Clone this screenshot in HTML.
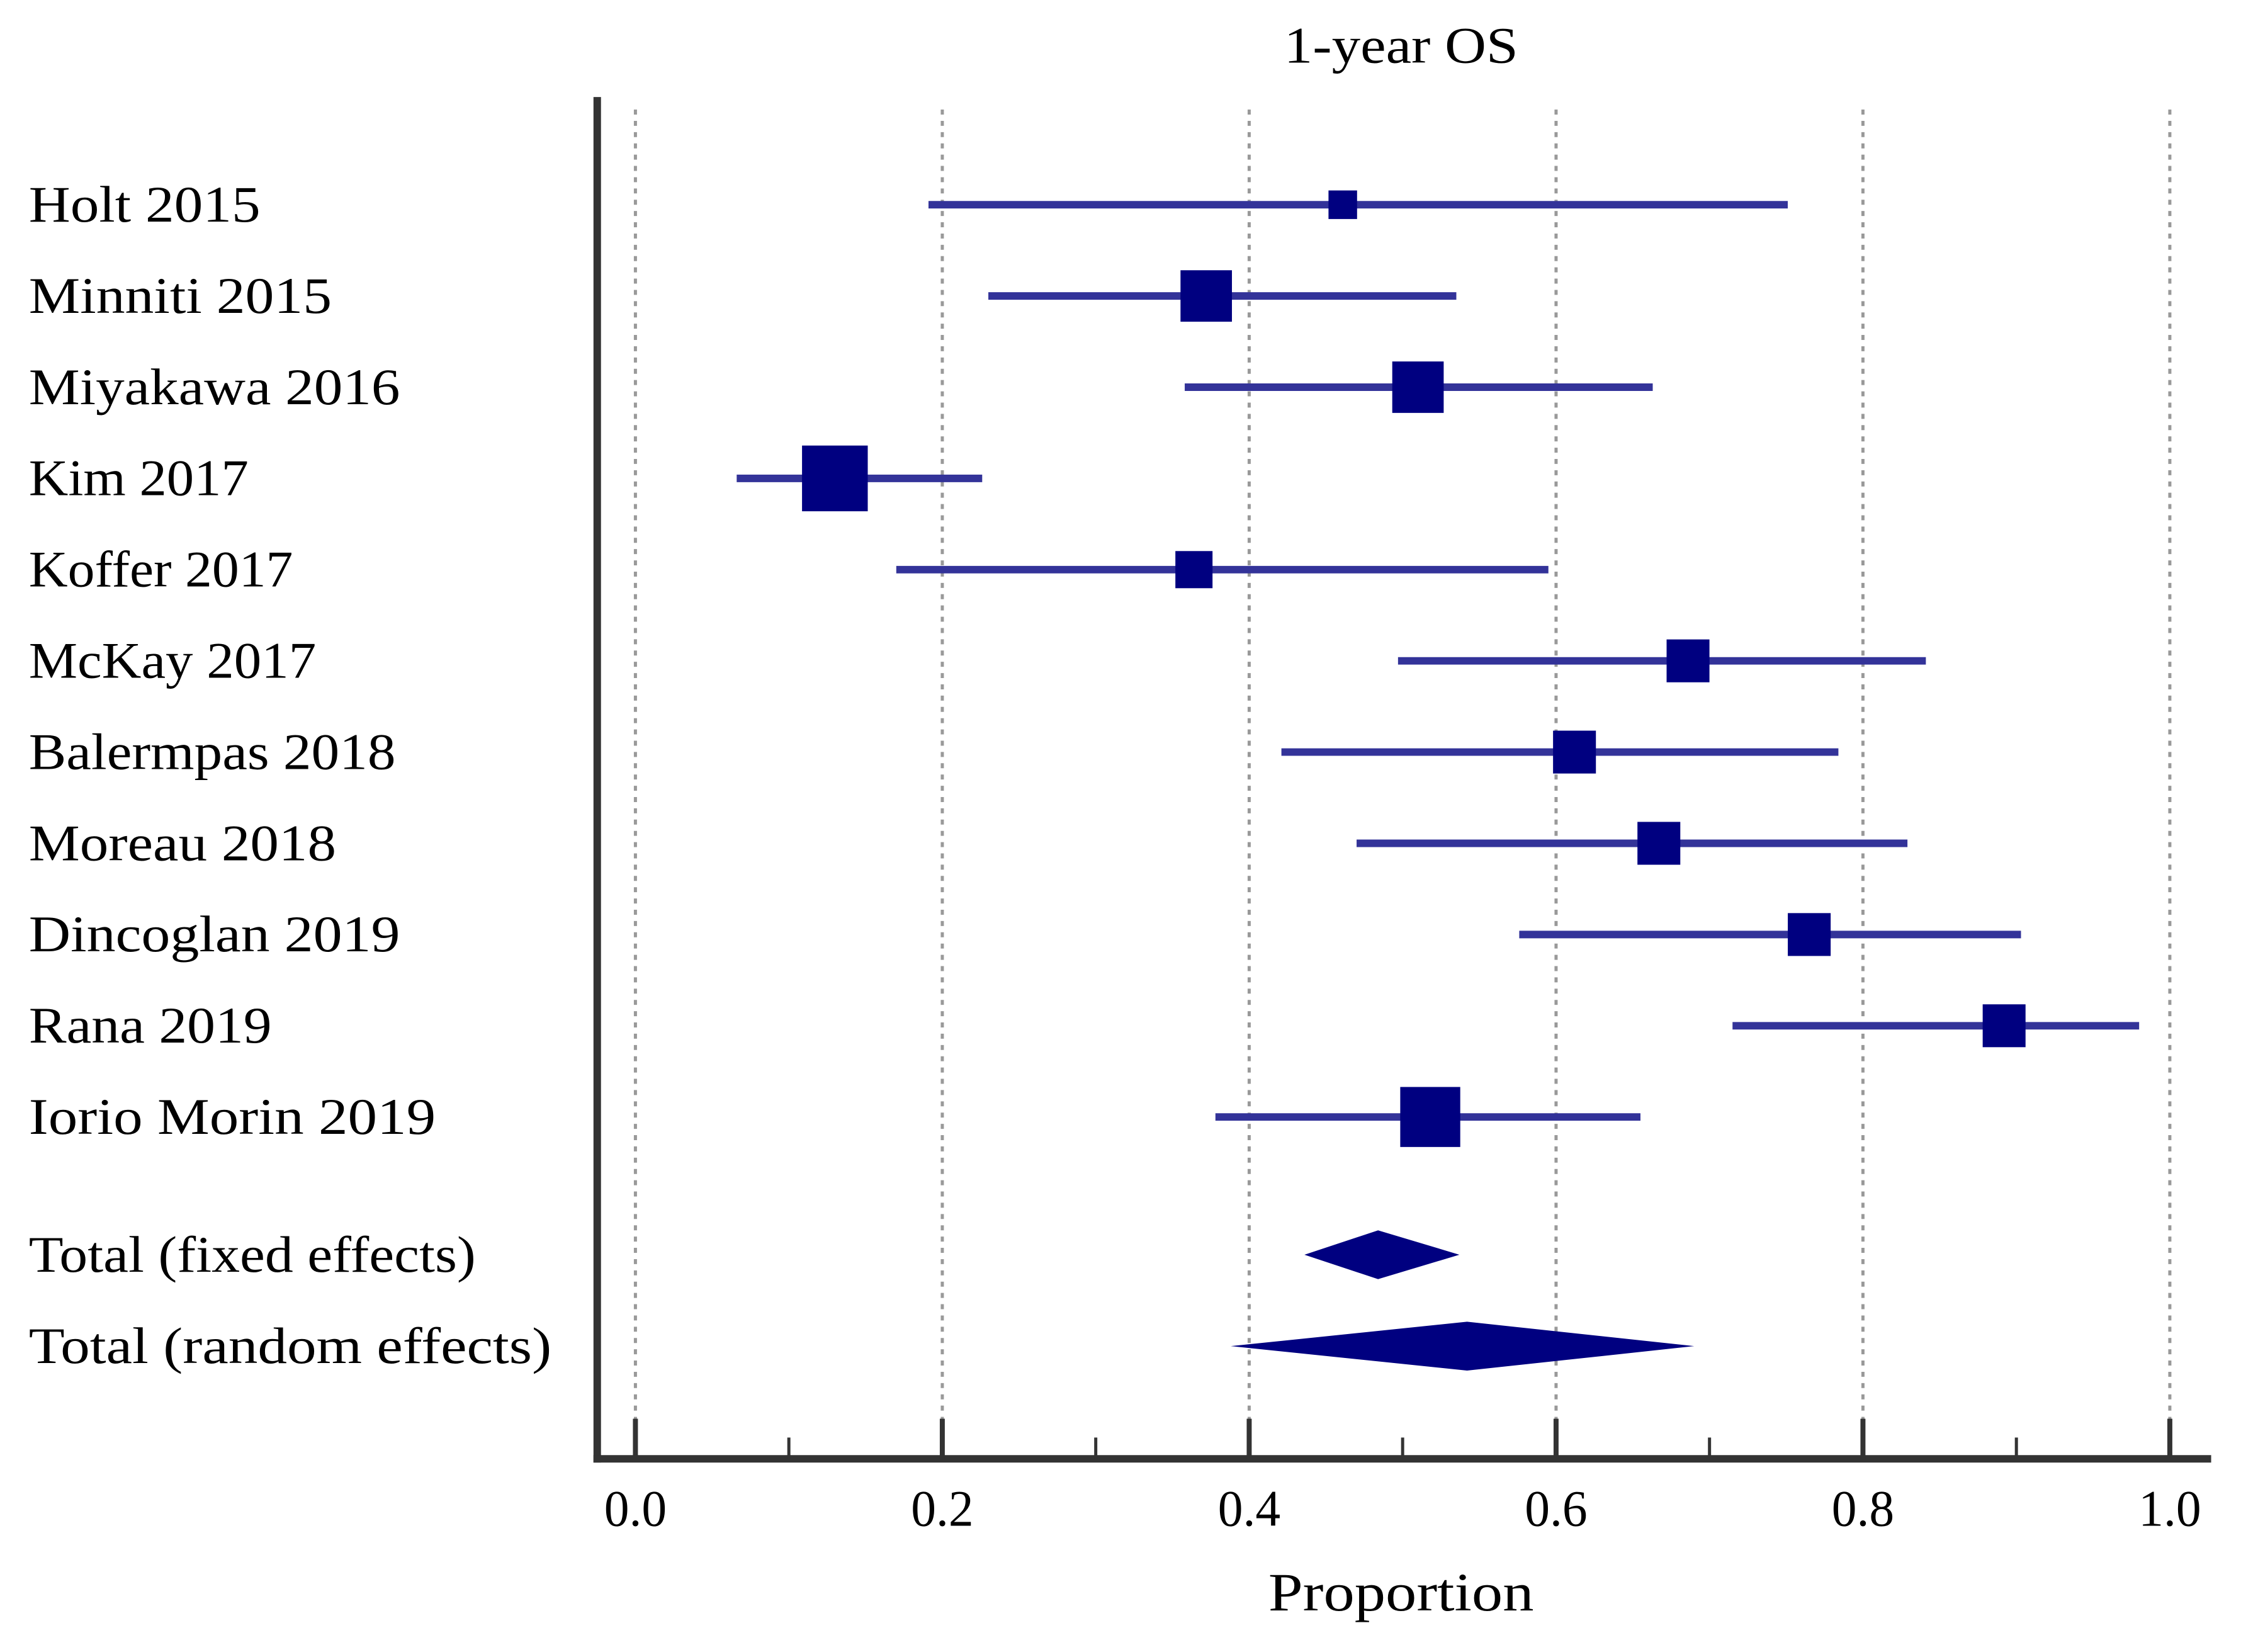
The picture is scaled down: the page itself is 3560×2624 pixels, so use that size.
<!DOCTYPE html>
<html><head><meta charset="utf-8"><style>html,body{margin:0;padding:0;background:#fff}svg{display:block}</style></head>
<body>
<svg width="3560" height="2624" viewBox="0 0 3560 2624" xmlns="http://www.w3.org/2000/svg" font-family="'Liberation Serif', serif"><g id="chart" transform="scale(0.9945)"></g></svg>
<script>
const studies = ["Holt 2015","Minniti 2015","Miyakawa 2016","Kim 2017","Koffer 2017","McKay 2017","Balermpas 2018","Moreau 2018","Dincoglan 2019","Rana 2019","Iorio Morin 2019"];
const estimates = [0.461,0.372,0.510,0.130,0.364,0.686,0.612,0.667,0.765,0.892,0.518];
const lowers = [0.191,0.230,0.358,0.066,0.170,0.497,0.421,0.470,0.576,0.715,0.378];
const uppers = [0.751,0.535,0.663,0.226,0.595,0.841,0.784,0.829,0.903,0.980,0.655];
const weights = [20,36,36,46,26,30,30,30,30,30,42];
const pooledNames = ["Total (fixed effects)","Total (random effects)"];
const pooledEst = [0.484,0.542];
const pooledLo = [0.436,0.388];
const pooledHi = [0.537,0.690];
const tickVals = [0,0.2,0.4,0.6,0.8,1.0];
const tickLabels = ["0.0","0.2","0.4","0.6","0.8","1.0"];
const minorVals = [0.1,0.3,0.5,0.7,0.9];
const labelWidths = [370,484,593,351,422,459,586,491,593,388,650];
const pooledWidths = [714,835];

const svg = document.getElementById('chart');
const NS = 'http://www.w3.org/2000/svg';
function mk(tag, attrs, parent){const e=document.createElementNS(NS,tag);for(const k in attrs)e.setAttribute(k,attrs[k]);(parent||svg).appendChild(e);return e;}
const X = v => 1015 + v*2451;
const rowY = i => 327 + i*145.7;
const pooledY = [2004, 2150];

tickVals.forEach(v=>{
  const g = mk('line',{x1:X(v),x2:X(v),y1:175,y2:2300,stroke:'#999',
    'stroke-width':5,'stroke-dasharray':'8 10'});
  
  
});
const ya = mk('line',{x1:954,x2:954,y1:155,y2:2336,stroke:'#333','stroke-width':12});


const xa = mk('line',{x1:948,x2:3532,y1:2330,y2:2330,stroke:'#333','stroke-width':12});


tickVals.forEach((v,i)=>{
  const t = mk('line',{x1:X(v),x2:X(v),y1:2266,y2:2330,stroke:'#333','stroke-width':8});
  
  
  const l = mk('text',{x:X(v),y:2437,'font-size':82,'text-anchor':'middle',fill:'#000',textLength:100,lengthAdjust:'spacingAndGlyphs'});
  l.textContent = tickLabels[i];
  
  
});
minorVals.forEach(v=>{
  const t = mk('line',{x1:X(v),x2:X(v),y1:2296,y2:2330,stroke:'#333','stroke-width':5});
  
  
});
studies.forEach((s,i)=>{
  const y = rowY(i);
  const ci = mk('line',{x1:X(lowers[i]),x2:X(uppers[i]),y1:y,y2:y,stroke:'#333399','stroke-width':12});
  
  
  const w = weights[i]*2.282;
  const b = mk('rect',{x:X(estimates[i])-w/2,y:y-w/2,width:w,height:w,fill:'#000080'});
  
  
  const t = mk('text',{x:46,y:y+27,'font-size':82,fill:'#000',textLength:labelWidths[i],lengthAdjust:'spacingAndGlyphs'});
  t.textContent = s;
  
  
});
pooledNames.forEach((s,i)=>{
  const y = pooledY[i], h = 39;
  const d = mk('polygon',{points:`${X(pooledLo[i])},${y} ${X(pooledEst[i])},${y-h} ${X(pooledHi[i])},${y} ${X(pooledEst[i])},${y+h}`,fill:'#000080'});
  
  
  const t = mk('text',{x:46,y:y+27,'font-size':82,fill:'#000',textLength:pooledWidths[i],lengthAdjust:'spacingAndGlyphs'});
  t.textContent = s;
  
  
});
const title = mk('text',{x:2238,y:100,'font-size':82,'text-anchor':'middle',fill:'#000',textLength:374,lengthAdjust:'spacingAndGlyphs'});
title.textContent = '1-year OS';


const xt = mk('text',{x:2238,y:2572,'font-size':86,'text-anchor':'middle',fill:'#000',textLength:424,lengthAdjust:'spacingAndGlyphs'});
xt.textContent = 'Proportion';


</script>
</body></html>
